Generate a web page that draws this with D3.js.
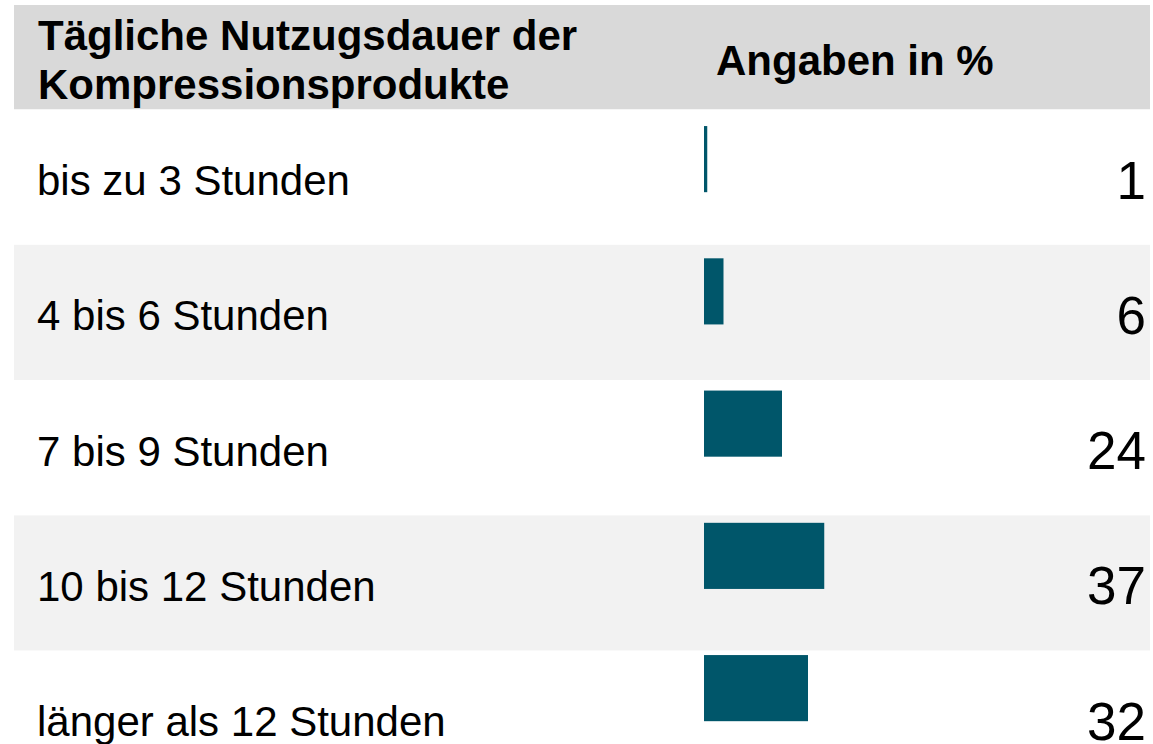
<!DOCTYPE html>
<html>
<head>
<meta charset="utf-8">
<script src="https://cdn.jsdelivr.net/npm/d3@7"></script>
<style>
  html, body { margin: 0; padding: 0; background: #ffffff; }
  svg { display: block; }
  text { font-family: "Liberation Sans", Arial, sans-serif; fill: #000; }
</style>
</head>
<body>
<svg id="chart" width="1153" height="744"></svg>
<script>
const categories = ["bis zu 3 Stunden", "4 bis 6 Stunden", "7 bis 9 Stunden", "10 bis 12 Stunden", "länger als 12 Stunden"];
const values = [1, 6, 24, 37, 32];
const titleLines = ["Tägliche Nutzugsdauer der", "Kompressionsprodukte"];
const unitLabel = "Angaben in %";

const svg = d3.select("#chart");
const W = 1153, H = 744;
const left = 14, right = 1150;

// header
svg.append("rect").attr("x", left).attr("y", 5).attr("width", right - left).attr("height", 104.5).attr("fill", "#d9d9d9");
svg.append("text").attr("x", 38).attr("y", 50).attr("font-size", 42).attr("font-weight", "bold").text(titleLines[0]);
svg.append("text").attr("x", 38).attr("y", 99).attr("font-size", 42).attr("font-weight", "bold").text(titleLines[1]);
svg.append("text").attr("x", 716).attr("y", 75).attr("font-size", 42).attr("font-weight", "bold").text(unitLabel);

// row bands
const rowY = d3.scaleBand().domain(categories).range([109.5, 109.5 + 5 * 135.3]).padding(0);
svg.append("g").selectAll("rect").data(categories).join("rect")
  .attr("x", left).attr("width", right - left)
  .attr("y", d => rowY(d)).attr("height", rowY.bandwidth())
  .attr("fill", (d, i) => i % 2 === 1 ? "#f2f2f2" : "#ffffff");

// bars
const barY = d3.scaleBand().domain(categories).range([93, 754.25]).paddingInner(0.5).paddingOuter(0.25);
const x = d3.scaleLinear().domain([0, 100]).range([704, 1029]);
svg.append("g").selectAll("rect").data(values).join("rect")
  .attr("x", x(0))
  .attr("y", (d, i) => barY(categories[i]))
  .attr("width", d => x(d) - x(0))
  .attr("height", barY.bandwidth())
  .attr("fill", "#00566a");

// labels
svg.append("g").selectAll("text").data(categories).join("text")
  .attr("x", 37).attr("y", d => rowY(d) + 85.5)
  .attr("font-size", 42).text(d => d);

// values
svg.append("g").selectAll("text").data(values).join("text")
  .attr("x", 1146).attr("y", (d, i) => rowY(categories[i]) + 89)
  .attr("text-anchor", "end").attr("font-size", 53).text(d => d);
</script>
</body>
</html>
